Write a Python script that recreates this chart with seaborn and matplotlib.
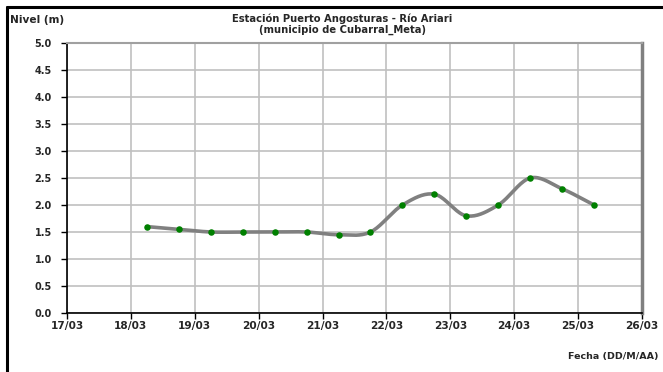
import numpy as np
import pandas as pd
import matplotlib
matplotlib.use("Agg")
import matplotlib.pyplot as plt
import seaborn as sns
from matplotlib.lines import Line2D

# ---- data ----
days = [18.25, 18.75, 19.25, 19.75, 20.25, 20.75, 21.25, 21.75,
        22.25, 22.75, 23.25, 23.75, 24.25, 24.75, 25.25]
nivel = [1.6, 1.55, 1.5, 1.5, 1.5, 1.5, 1.45, 1.5,
         2.0, 2.2, 1.8, 2.0, 2.5, 2.3, 2.0]
tick_days = [17, 18, 19, 20, 21, 22, 23, 24, 25, 26]
tick_labels = ["17/03", "18/03", "19/03", "20/03", "21/03",
               "22/03", "23/03", "24/03", "25/03", "26/03"]
y_ticks = [0.0, 0.5, 1.0, 1.5, 2.0, 2.5, 3.0, 3.5, 4.0, 4.5, 5.0]

title = "Estación Puerto Angosturas - Río Ariari\n(municipio de Cubarral_Meta)"

df = pd.DataFrame({"dia": days, "nivel": nivel})

# smooth curve (Catmull-Rom through the data points)
def catmull(xs, ys, n=20):
    xs = np.asarray(xs, float); ys = np.asarray(ys, float)
    px = np.concatenate([[2*xs[0]-xs[1]], xs, [2*xs[-1]-xs[-2]]])
    py = np.concatenate([[2*ys[0]-ys[1]], ys, [2*ys[-1]-ys[-2]]])
    ox, oy = [], []
    for i in range(1, len(px)-2):
        t = np.linspace(0, 1, n, endpoint=False)
        for P, out in ((px, ox), (py, oy)):
            p0, p1, p2, p3 = P[i-1], P[i], P[i+1], P[i+2]
            out.extend(0.5*((2*p1) + (-p0+p2)*t + (2*p0-5*p1+4*p2-p3)*t**2
                            + (-p0+3*p1-3*p2+p3)*t**3))
    ox.append(xs[-1]); oy.append(ys[-1])
    return np.array(ox), np.array(oy)

sx, sy = catmull(days, nivel)
curve = pd.DataFrame({"dia": sx, "nivel": sy})

sns.set_style("white")
plt.rcParams["font.family"] = ["DejaVu Sans"]
plt.rcParams["font.weight"] = "bold"

fig = plt.figure(figsize=(6.63, 3.72), dpi=100)
ax = fig.add_axes([67/663, 1-313/372, (642-67)/663, (313-43)/372])

sns.lineplot(data=curve, x="dia", y="nivel", ax=ax, color="#808080",
             linewidth=2.6, sort=False, zorder=3)
sns.scatterplot(data=df, x="dia", y="nivel", ax=ax, color="#008000",
                s=22, edgecolor="#008000", linewidth=0, zorder=4)

ax.set_xlim(17, 26)
ax.set_ylim(0, 5)
ax.set_xticks(tick_days)
ax.set_xticklabels(tick_labels)
ax.set_yticks(y_ticks)
ax.set_yticklabels([f"{v:.1f}" for v in y_ticks])
ax.grid(True, color="#c0c0c0", linewidth=1.2)
ax.set_axisbelow(True)
ax.set_xlabel("")
ax.set_ylabel("")
ax.tick_params(axis="both", length=4, width=1, color="black",
               direction="out")
ax.tick_params(axis="x", labelsize=7.6, pad=1.5)
ax.tick_params(axis="y", labelsize=7, pad=7)
for lab in ax.get_xticklabels() + ax.get_yticklabels():
    lab.set_fontweight("bold")
ax.tick_params(axis="both", which="both", bottom=True, left=True)
ax.spines["left"].set_color("black")
ax.spines["bottom"].set_color("black")
ax.spines["left"].set_linewidth(1.2)
ax.spines["bottom"].set_linewidth(1.2)
ax.spines["top"].set_color("#a0a0a0")
ax.spines["right"].set_color("#808080")
ax.spines["top"].set_linewidth(1.5)
ax.spines["right"].set_linewidth(2.5)

fig.text(342/663, 1-24.5/372, title, ha="center", va="center", fontsize=7.2,
         fontweight="bold", linespacing=1.05)
fig.text(10/663, 1-20/372, "Nivel (m)", ha="left", va="center", fontsize=7.6,
         fontweight="bold")
fig.text(658/663, 1-357/372, "Fecha (DD/M/AA)", ha="right", va="center",
         fontsize=6.8, fontweight="bold")
fig.text(2/663, 1-2/372, "Cubarral", ha="left", va="bottom", fontsize=11,
         fontweight="bold", color="#707070")

# outer frame (left and top)
fig.add_artist(Line2D([7/663, 7/663], [0, 1-7/372], transform=fig.transFigure,
                      color="black", linewidth=2.2))
fig.add_artist(Line2D([7/663, 1], [1-7/372, 1-7/372], transform=fig.transFigure,
                      color="black", linewidth=2.2))

fig.savefig("out.png", dpi=100)
